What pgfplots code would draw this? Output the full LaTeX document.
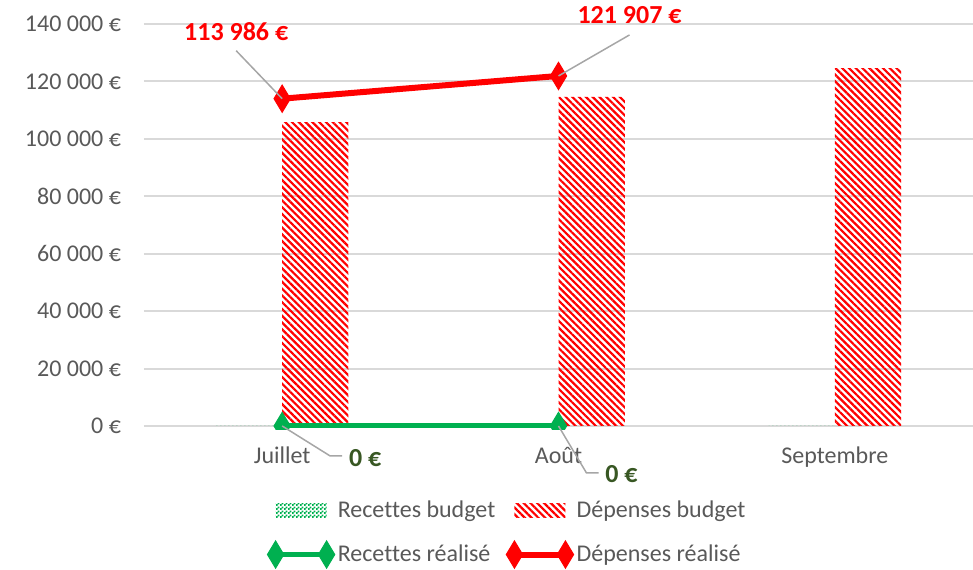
\documentclass[border=0pt]{standalone}
\usepackage{fontspec}
\setmainfont{Carlito}[Ligatures={NoCommon}]
\usepackage{pgfplots}
\pgfplotsset{compat=1.18}
\usetikzlibrary{patterns,patterns.meta}

\definecolor{gridgray}{RGB}{217,217,217}
\definecolor{txtgray}{RGB}{89,89,89}
\definecolor{leadgray}{RGB}{166,166,166}
\definecolor{darkgreen}{RGB}{56,87,35}
\definecolor{xlgreen}{RGB}{0,176,80}

% damier fin pour "Recettes budget"
\pgfdeclarepatternformonly[\checkcolor]{fine checker}{\pgfqpoint{0pt}{0pt}}{\pgfqpoint{2pt}{2pt}}{\pgfqpoint{2pt}{2pt}}{%
  \pgfsetfillcolor{\checkcolor}%
  \pgfpathrectangle{\pgfqpoint{0pt}{0pt}}{\pgfqpoint{1.05pt}{1.05pt}}%
  \pgfpathrectangle{\pgfqpoint{1pt}{1pt}}{\pgfqpoint{1.05pt}{1.05pt}}%
  \pgfusepath{fill}}
\def\checkcolor{xlgreen}

\pgfplotsset{
  barlegend/.style={legend image code/.code={\fill[##1] (0pt,-3.5pt) rectangle (25.5pt,3.5pt);}},
  linelegend/.style={legend image code/.code={\draw[##1] plot coordinates {(0pt,0pt) (25.5pt,0pt)};}},
}

\newcommand{\lblfont}{\bfseries\fontsize{13}{15}\selectfont}

\begin{document}
\begin{tikzpicture}
\begin{axis}[
  name=ax,
  scale only axis, width=414.5pt, height=203pt,
  xmin=-0.5, xmax=2.5, ymin=-1400, ymax=140000,
  xtick={0,1,2}, xticklabels={Juillet,Août,Septembre},
  ytick={0,20000,40000,60000,80000,100000,120000,140000},
  yticklabels={0 €,20 000 €,40 000 €,60 000 €,80 000 €,100 000 €,120 000 €,140 000 €},
  scaled y ticks=false,
  axis line style={draw=none}, major tick length=0pt,
  ymajorgrids, grid style={draw=gridgray, line width=1pt},
  tick label style={font=\fontsize{12}{14}\selectfont, text=txtgray},
  yticklabel style={xshift=-8pt},
  xticklabel style={yshift=-5pt},
  clip marker paths=true,
  legend columns=2, legend cell align=left,
  legend style={at={(0.439,-0.253)}, anchor=center, draw=none, fill=none,
    font=\fontsize{12}{14}\selectfont, text=txtgray, row sep=8pt,
    nodes={inner xsep=1.5pt},
    /tikz/every even column/.append style={column sep=4pt}},
]
\addplot[ybar, bar width=0.24, bar shift=-0.12, draw=none,
  pattern=fine checker, pattern color=xlgreen, barlegend]
  coordinates {(0,0) (1,0) (2,0)};
\addplot[ybar, bar width=0.24, bar shift=0.12, draw=none,
  pattern={Lines[angle=-45,distance=2.4pt,line width=1.1pt]}, pattern color=red, barlegend]
  coordinates {(0,105800) (1,114600) (2,124600)};
\addplot[draw=xlgreen, line width=2.5pt, mark=diamond*, mark size=6.8pt,
  mark options={fill=xlgreen, draw=xlgreen, line width=0.5pt, xscale=0.8}, linelegend]
  coordinates {(0,0) (1,0)};
\addplot[draw=red, line width=3pt, mark=diamond*, mark size=6.8pt,
  mark options={fill=red, draw=red, line width=0.5pt, xscale=0.8}, linelegend]
  coordinates {(0,113986) (1,121907)};
\legend{Recettes budget, Dépenses budget, Recettes réalisé, Dépenses réalisé}
\coordinate (pj) at (axis cs:0,113986);
\coordinate (pa) at (axis cs:1,121907);
\coordinate (gj) at (axis cs:0,0);
\coordinate (ga) at (axis cs:1,0);
\end{axis}
% étiquettes de données et lignes de rappel
\draw[leadgray, line width=0.75pt] (pj) -- ++(-23pt,24pt);
\node[text=red, font=\lblfont] at ([shift={(-23pt,33.5pt)}]pj) {113 986 €};
\draw[leadgray, line width=0.75pt] (pa) -- ++(35.5pt,20.5pt);
\node[text=red, font=\lblfont] at ([shift={(35.5pt,30.25pt)}]pa) {121 907 €};
\draw[leadgray, line width=0.75pt] (gj) -- ++(24pt,-15pt) -- ++(6pt,0pt);
\node[text=darkgreen, font=\lblfont] at ([shift={(41.5pt,-16pt)}]gj) {0 €};
\draw[leadgray, line width=0.75pt] (ga) -- ++(14pt,-23.5pt) -- ++(6pt,0pt);
\node[text=darkgreen, font=\lblfont] at ([shift={(31.5pt,-24pt)}]ga) {0 €};
\pgfresetboundingbox
\path[use as bounding box] ([xshift=-72pt,yshift=-70pt]ax.south west) rectangle ([yshift=12pt]ax.north east);
\end{tikzpicture}
\end{document}
